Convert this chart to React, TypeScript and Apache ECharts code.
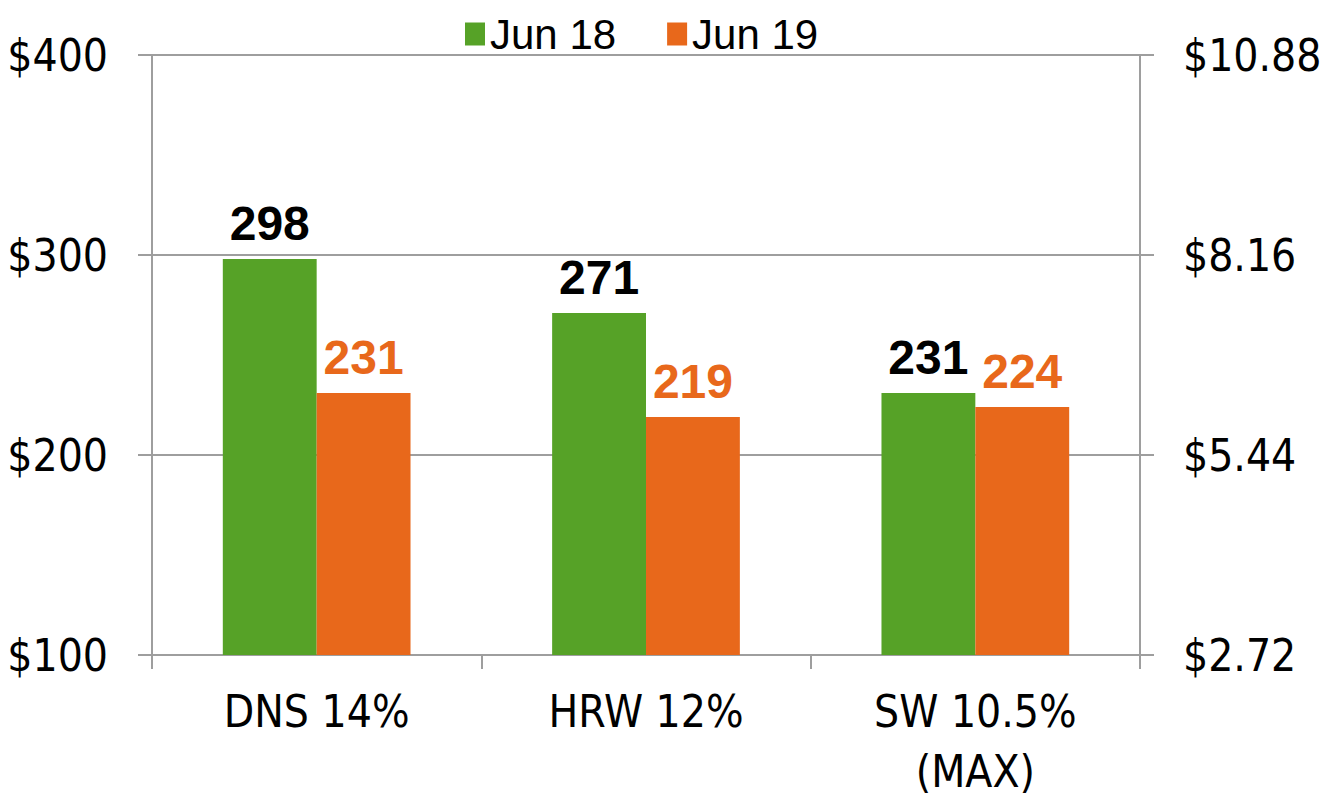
import React, { useEffect, useRef } from "react";
import * as echarts from "echarts";

const categories = ["DNS 14%", "HRW 12%", "SW 10.5%\n(MAX)"];
const jun18 = [298, 271, 231];
const jun19 = [231, 219, 224];
const seriesNames = ["Jun 18", "Jun 19"];
const leftTicks = { min: 100, max: 400, interval: 100 };
const rightTicks = { min: 2.72, max: 10.88, interval: 2.72 };

const GREEN = "#56A227";
const ORANGE = "#E8681B";
const GRID = "#9E9E9E";
const NARROW = "'Liberation Sans Narrow', 'DejaVu Sans Condensed', 'Liberation Sans', sans-serif";
const SANS = "'Liberation Sans', Arial, sans-serif";

export default function App() {
  const ref = useRef<HTMLDivElement>(null);
  useEffect(() => {
    if (!ref.current) return;
    const chart = echarts.init(ref.current, undefined, { renderer: "svg" });
    const axisLine = { show: true, lineStyle: { color: GRID, width: 2 } };
    const axisTick = { show: true, length: 14, lineStyle: { color: GRID, width: 2 } };
    chart.setOption({
      animation: false,
      backgroundColor: "#ffffff",
      legend: {
        top: 8,
        left: 460,
        itemWidth: 20,
        itemHeight: 23,
        itemGap: 51,
        icon: "rect",
        textStyle: { fontFamily: SANS, fontSize: 42, color: "#000", width: 138 },
        data: seriesNames,
      },
      grid: { left: 152, right: 189, top: 55, bottom: 141, containLabel: false, outerBoundsMode: "none" },
      xAxis: {
        type: "category",
        data: categories,
        axisLine,
        axisTick: { ...axisTick, alignWithLabel: false },
        axisLabel: {
          fontFamily: NARROW,
          fontSize: 44,
          color: "#000",
          margin: 26,
          lineHeight: 60,
        },
      },
      yAxis: [
        {
          type: "value",
          position: "left",
          min: leftTicks.min,
          max: leftTicks.max,
          interval: leftTicks.interval,
          axisLine,
          axisTick,
          splitLine: { show: true, lineStyle: { color: GRID, width: 2 } },
          axisLabel: {
            fontFamily: NARROW,
            fontSize: 44,
            color: "#000",
            margin: 44,
            formatter: (v: number) => "$" + v,
          },
        },
        {
          type: "value",
          position: "right",
          min: rightTicks.min,
          max: rightTicks.max,
          interval: rightTicks.interval,
          axisLine,
          axisTick,
          splitLine: { show: false },
          axisLabel: {
            fontFamily: NARROW,
            fontSize: 44,
            color: "#000",
            margin: 43,
            formatter: (v: number) => "$" + v.toFixed(2),
          },
        },
      ],
      series: [
        {
          name: seriesNames[0],
          type: "bar",
          yAxisIndex: 0,
          data: jun18,
          barGap: "0%",
          barCategoryGap: "43%",
          itemStyle: { color: GREEN },
          label: {
            show: true,
            position: "top",
            distance: 12,
            fontFamily: SANS,
            fontWeight: "bold",
            fontSize: 48,
            color: "#000",
          },
        },
        {
          name: seriesNames[1],
          type: "bar",
          yAxisIndex: 0,
          data: jun19,
          barGap: "0%",
          barCategoryGap: "43%",
          itemStyle: { color: ORANGE },
          label: {
            show: true,
            position: "top",
            distance: 12,
            fontFamily: SANS,
            fontWeight: "bold",
            fontSize: 48,
            color: ORANGE,
          },
        },
      ],
    });
    return () => chart.dispose();
  }, []);
  return <div ref={ref} style={{ width: 1329, height: 796, position: "absolute", left: 0, top: 0 }} />;
}
